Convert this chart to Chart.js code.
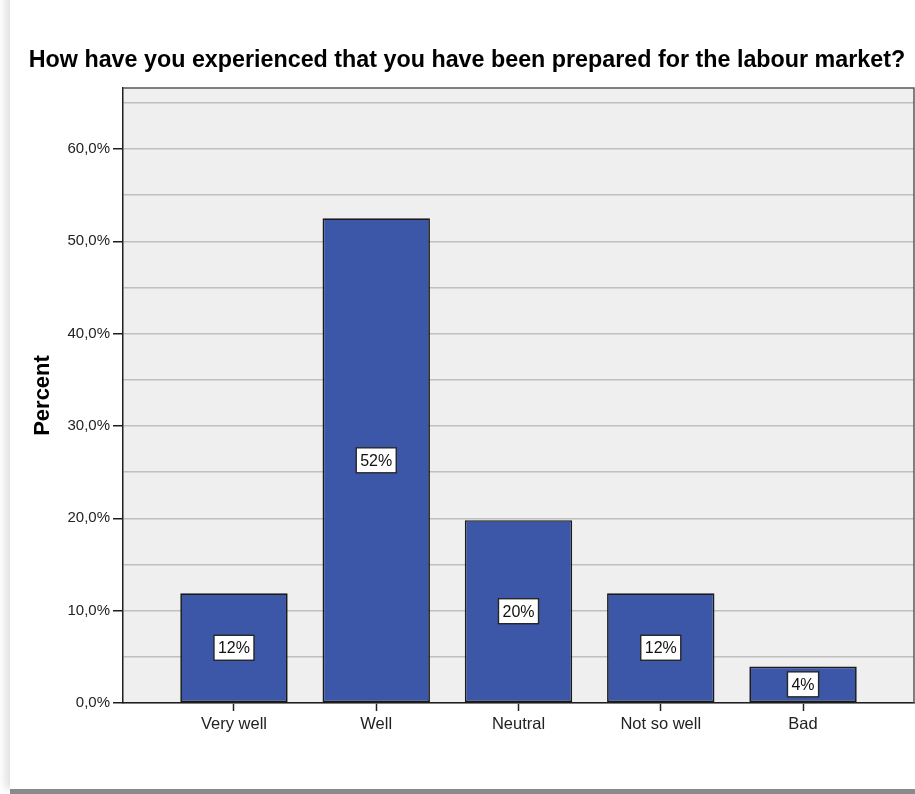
<!DOCTYPE html>
<html>
<head>
<meta charset="utf-8">
<title>Labour market preparation</title>
<script src="https://cdn.jsdelivr.net/npm/chart.js@4.4.1/dist/chart.umd.min.js"></script>
<style>
  html, body { margin: 0; padding: 0; background: #fff; }
  #card {
    position: absolute; left: 10px; top: -10px; width: 905px; height: 799px;
    background: #fff;
    box-shadow: 0 5px 0 #8a8a8a, -5px 0 8px rgba(0,0,0,0.12);
  }
  #chart { position: absolute; left: 0; top: 0; }
</style>
</head>
<body>
<div id="card"></div>
<canvas id="chart" width="915" height="794"></canvas>
<script>
// survey answers and share of respondents (percent)
const categories = ['Very well', 'Well', 'Neutral', 'Not so well', 'Bad'];
const percents = [11.88, 52.48, 19.80, 11.88, 3.96];
const yTickStep = 5;      // grid every 5%, labels every 10%
const yMax = 66.6;

const FONT = "'Liberation Sans', Arial, sans-serif";

// plot frame: grey background, then top/right border after drawing
const plotFrame = {
  id: 'plotFrame',
  beforeDraw(chart) {
    const a = chart.chartArea, ctx = chart.ctx;
    ctx.save();
    ctx.fillStyle = '#efefef';
    ctx.fillRect(a.left, a.top, a.right - a.left, a.bottom - a.top);
    ctx.restore();
  },
  afterDraw(chart) {
    const a = chart.chartArea, ctx = chart.ctx;
    ctx.save();
    ctx.strokeStyle = '#5a5a5a';
    ctx.lineWidth = 1.5;
    ctx.beginPath();
    ctx.moveTo(a.left, a.top);
    ctx.lineTo(a.right, a.top);
    ctx.lineTo(a.right, a.bottom);
    ctx.stroke();
    ctx.restore();
  }
};

// boxed value labels in the middle of each bar
const valueBoxes = {
  id: 'valueBoxes',
  afterDatasetsDraw(chart) {
    const ctx = chart.ctx;
    const meta = chart.getDatasetMeta(0);
    ctx.save();
    ctx.font = '16px ' + FONT;
    ctx.textAlign = 'center';
    ctx.textBaseline = 'middle';
    meta.data.forEach((bar, i) => {
      const text = Math.round(percents[i]) + '%';
      const cx = bar.x, cy = (bar.y + bar.base) / 2;
      const w = ctx.measureText(text).width + 8, h = 25;
      ctx.fillStyle = '#fff';
      ctx.fillRect(cx - w / 2, cy - h / 2, w, h);
      ctx.strokeStyle = '#262626';
      ctx.lineWidth = 1.4;
      ctx.strokeRect(cx - w / 2, cy - h / 2, w, h);
      ctx.fillStyle = '#111';
      ctx.fillText(text, cx, cy + 1);
    });
    ctx.restore();
  }
};

new Chart(document.getElementById('chart'), {
  type: 'bar',
  data: {
    datasets: [{
      data: percents.map((v, i) => ({ x: i, y: v })),
      backgroundColor: '#3c56a8',
      borderColor: '#1a1a1a',
      borderWidth: 1.7,
      borderSkipped: false,
      barPercentage: 1,
      categoryPercentage: 0.755
    }]
  },
  plugins: [plotFrame, valueBoxes],
  options: {
    responsive: false,
    animation: false,
    layout: { padding: { left: 20, right: 1, top: 0, bottom: 0 } },
    plugins: {
      legend: { display: false },
      tooltip: { enabled: false },
      title: {
        display: true,
        text: 'How have you experienced that you have been prepared for the labour market?',
        color: '#000',
        font: { family: FONT, size: 23.3, weight: 'bold' },
        padding: { top: 47, bottom: 13 }
      }
    },
    scales: {
      x: {
        type: 'linear',
        min: -0.78,
        max: 4.78,
        offset: false,
        afterBuildTicks(scale) {
          scale.ticks = categories.map((c, i) => ({ value: i }));
        },
        afterFit(scale) { scale.height = 91; },
        ticks: {
          callback: (v) => categories[v],
          color: '#222',
          font: { family: FONT, size: 16.5 },
          padding: 4,
          maxRotation: 0,
          autoSkip: false
        },
        grid: {
          offset: false,
          drawOnChartArea: false,
          drawTicks: true,
          tickLength: 8,
          tickColor: '#222',
          tickWidth: 1.5
        },
        border: { display: true, color: '#1e1e1e', width: 1.5 }
      },
      y: {
        min: 0,
        max: yMax,
        afterFit(scale) { scale.width = 103; },
        ticks: {
          stepSize: yTickStep,
          includeBounds: false,
          callback: (v) => (v % 10 === 0 ? v.toFixed(1).replace('.', ',') + '%' : ''),
          color: '#222',
          font: { family: FONT, size: 15 },
          padding: 3
        },
        grid: {
          color: '#bfbfbf',
          lineWidth: 1.5,
          tickLength: 10,
          tickColor: (c) => (c.tick && c.tick.value % 10 === 0 ? '#1e1e1e' : 'rgba(0,0,0,0)'),
          tickWidth: 1.5
        },
        border: { display: true, color: '#1e1e1e', width: 1.5 },
        title: {
          display: true,
          text: 'Percent',
          color: '#000',
          font: { family: FONT, size: 22, weight: 'bold' },
          padding: { top: 10, bottom: 0 }
        }
      }
    }
  }
});
</script>
</body>
</html>
